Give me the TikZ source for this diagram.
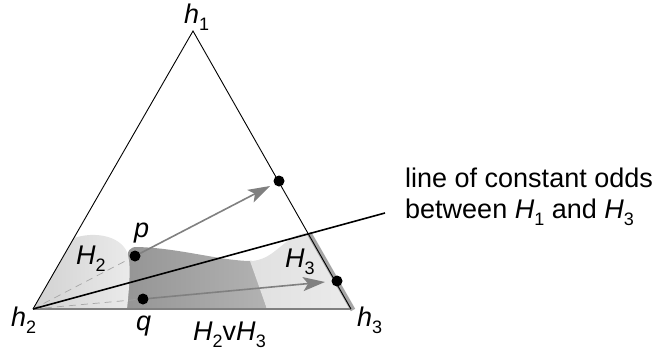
\documentclass[tikz,border=0pt]{standalone}
\usepackage{fontspec}
\setmainfont{Liberation Sans}
\usetikzlibrary{arrows.meta}
\newcommand\sbs[1]{\raisebox{-7.5pt}{\fontsize{18}{18}\selectfont #1}}
\begin{document}
\begin{tikzpicture}[x=1pt,y=-1pt,
  lbl/.style={inner sep=0pt, anchor=base west, font=\fontsize{27}{32}\selectfont},
  dot/.style={circle, fill=black, inner sep=0pt, minimum size=11pt},
  edge/.style={black, line width=0.9pt},
  dashln/.style={gray!70, line width=0.7pt, dash pattern=on 7pt off 5pt},
  garrow/.style={draw=black!50, line width=1.6pt, -{Stealth[length=22pt,width=14pt,inset=5pt,fill=black!50]}}]
\useasboundingbox (0,0) rectangle (655,351);
\coordinate (h1) at (193,31);
\coordinate (h2) at (33,309);
\coordinate (h3) at (351,309);
\coordinate (oddsend) at (385,213);
\coordinate (ptip) at (270,186);
\coordinate (qtip) at (325,282);
% regions
\shade[left color=black!42, right color=black!30]
  (120,309) -- (127,262) .. controls (127,250) and (130,247) .. (137,247)
  .. controls (180,248) and (220,261) .. (252,261) -- (267,309) -- cycle;
\shade[left color=black!12, right color=black!8]
  (250,261) .. controls (275,261) and (285,234) .. (307,233) -- (351,309) -- (267,309) -- cycle;
\shade[left color=black!18, right color=black!8]
  (33,309) -- (74,238) .. controls (95,231) and (120,236) .. (127,252)
  .. controls (131,262) and (130,280) .. (127,309) -- cycle;
% right strip
\draw[black!35, line width=5pt] (309,233) -- (353,310);
% bottom edge
\draw[black!50, line width=2.4pt] (h2) -- (h3);
% triangle edges
\draw[edge] (h2) -- (h1) -- (h3);
% dots (nodes)
\node[dot] (p) at (135,256) {};
\node[dot] (q) at (143,299) {};
\node[dot] (r1) at (279,181) {};
\node[dot] (r2) at (337,281) {};
% dashed lines
\draw[dashln] (h2) -- (p);
\draw[dashln] (h2) -- (q);
% constant odds line
\draw[black, line width=1.6pt] (h2) -- (oddsend);
% arrows
\draw[garrow] (p) -- (ptip);
\draw[garrow] (q) -- (qtip);
% labels
\node[lbl] (lh1) at (184,23) {\textit{h}\sbs{1}};
\node[lbl] (lh2) at (11,326) {\textit{h}\sbs{2}};
\node[lbl] (lh3) at (357,326) {\textit{h}\sbs{3}};
\node[lbl] (lp) at (134,237) {\textit{p}};
\node[lbl] (lq) at (136,330) {\textit{q}};
\node[lbl] (lH2) at (76,264) {\textit{H}\sbs{2}};
\node[lbl] (lH3) at (285,267) {\textit{H}\sbs{3}};
\node[lbl] (lH23) at (193,340) {\textit{H}\sbs{2}v\textit{H}\sbs{3}};
\node[lbl] (t1) at (405,187) {line of constant odds};
\node[lbl] (t2) at (405,218) {between \textit{H}\sbs{1} and \textit{H}\sbs{3}};
\end{tikzpicture}
\end{document}
